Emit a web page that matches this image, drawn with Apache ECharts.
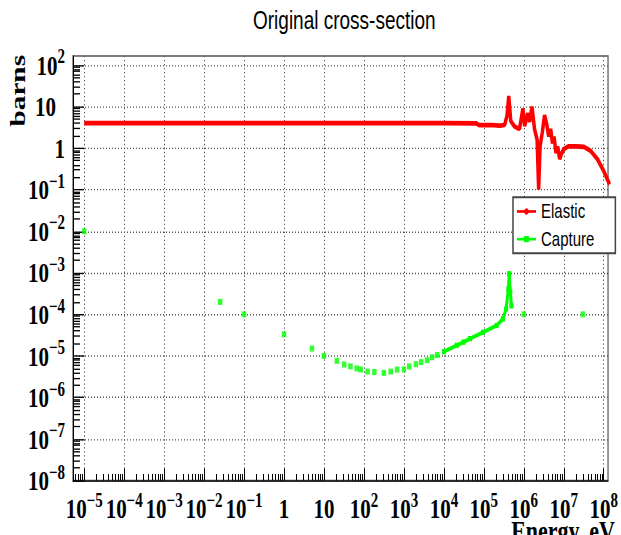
<!DOCTYPE html>
<html>
<head>
<meta charset="utf-8">
<script src="https://cdn.jsdelivr.net/npm/echarts@6/dist/echarts.min.js"></script>
<style>
  html { margin: 0; padding: 0; overflow: hidden; background: #fff; }
  body { margin: 0; padding: 0; width: 621px; height: 535px; background: #fff; }
  /* the chart is laid out on a squat 621x402 area and stretched vertically */
  #chart { width: 621px; height: 402px; transform: scaleY(1.3308); transform-origin: 0 0; }
</style>
</head>
<body>
<div id="chart"></div>
<script>
// Elastic cross-section: energy (eV) and value (barns)
const elasticEnergy = [1e-5, 1e-4, 1e-3, 1e-2, 1e-1, 1, 10, 1e2, 1e3, 1e4, 6.5e4, 7.5e4, 1.5e5, 2.5e5, 3.3e5, 3.8e5, 4.2e5, 4.5e5, 4.7e5, 5.9e5, 7.8e5, 9.5e5, 1.05e6, 1.26e6, 1.4e6, 1.6e6, 1.85e6, 2.15e6, 2.35e6, 2.55e6, 2.9e6, 3.3e6, 3.7e6, 4.2e6, 4.7e6, 5.2e6, 5.7e6, 6.4e6, 7.0e6, 7.9e6, 8.9e6, 1.0e7, 1.3e7, 2.0e7, 3.2e7, 4.7e7, 6.9e7, 1.0e8, 1.4e8];
const elasticXS = [4.0, 4.0, 4.0, 4.0, 4.0, 4.0, 4.0, 4.0, 4.0, 4.0, 3.95, 3.6, 3.6, 3.5, 3.6, 6.0, 18, 8, 4.5, 3.3, 2.9, 9, 3.4, 6.9, 4.3, 10, 2.9, 1.6, 0.1, 1.1, 2.4, 6.2, 4.0, 1.9, 2.9, 1.3, 1.9, 0.76, 1.1, 0.55, 0.76, 0.95, 1.1, 1.1, 1.07, 0.86, 0.55, 0.28, 0.135];

// Capture cross-section: isolated points
const captureDotEnergy = [1e-5, 0.0253, 0.1, 1, 5, 10, 21, 32, 46, 66, 83, 123, 182, 316, 468, 676, 1000, 1350, 2000, 2700, 3800, 5100, 6800, 1e6, 3e7];
const captureDotXS = [1e-2, 2e-4, 1e-4, 3.3e-5, 1.5e-5, 1e-5, 7.6e-6, 6.2e-6, 5.6e-6, 5.0e-6, 4.7e-6, 4.2e-6, 4.1e-6, 3.9e-6, 4.2e-6, 4.7e-6, 4.7e-6, 5.6e-6, 6.3e-6, 7.1e-6, 7.9e-6, 9.3e-6, 1.05e-5, 1e-4, 1e-4];
// Capture cross-section: densely sampled run
const captureRunEnergy = [1e4, 2.1e4, 3.1e4, 4.5e4, 9.5e4, 2.1e5, 3.0e5, 3.6e5, 4.1e5, 4.3e5, 4.6e5, 4.9e5];
const captureRunXS = [1.26e-5, 1.8e-5, 2.15e-5, 2.6e-5, 3.7e-5, 5.4e-5, 7.8e-5, 1.35e-4, 4.1e-4, 9.5e-4, 3.5e-4, 1.6e-4];

// Decade exponents for the axis labels
const xDecades = [-5, -4, -3, -2, -1, 0, 1, 2, 3, 4, 5, 6, 7, 8];
const yDecades = [-8, -7, -6, -5, -4, -3, -2, -1, 0, 1, 2];

const xMin = 5.25e-6, xMax = 1.28e8;
const yMin = 1e-8, yMax = 165;

const zip = (a, b) => a.map((v, i) => [v, b[i]]);
const decades = list => list.map(e => Math.pow(10, e));
function minors(lo, hi) {
  const out = [];
  for (let e = Math.floor(Math.log10(lo)); e <= Math.ceil(Math.log10(hi)); e++) {
    for (let m = 2; m <= 9; m++) {
      const v = m * Math.pow(10, e);
      if (v > lo && v < hi) out.push(v);
    }
  }
  return out;
}

function decadeLabel(v, padTen) {
  const e = Math.round(Math.log10(v));
  if (e === 0) return '{b|1}';
  if (e === 1) return padTen ? '{b|10}{g| }' : '{b|10}';
  return '{b|10}{s|' + (e < 0 ? '\u2212' + (-e) : e) + '}';
}

const serif = 'Liberation Serif';
const sans = 'Liberation Sans';
const labelRich = {
  b: { fontFamily: serif, fontWeight: 'bold', fontSize: 21, lineHeight: 28, color: '#000' },
  s: { fontFamily: serif, fontWeight: 'bold', fontSize: 15, lineHeight: 15, verticalAlign: 'top', color: '#000' },
  g: { width: 9, fontSize: 21, lineHeight: 28 }
};
const gridLine = { show: true, lineStyle: { color: '#555', width: 1, type: [1, 2] } };

const chart = echarts.init(document.getElementById('chart'), null, { renderer: 'svg' });
chart.setOption({
  animation: false,
  backgroundColor: '#fff',
  title: {
    text: 'Original cross-section',
    left: 253, top: 6, padding: 0,
    textStyle: { fontFamily: sans, fontSize: 19, fontWeight: 'normal', color: '#000' }
  },
  grid: {
    left: 73, right: 7.7, top: 42.1, bottom: 40.9,
    show: true, borderColor: '#555', borderWidth: 1.2, backgroundColor: 'transparent'
  },
  legend: {
    data: ['Elastic', 'Capture'],
    orient: 'vertical',
    left: 513, top: 148.3,
    itemWidth: 19, itemHeight: 6, itemGap: 5.8,
    padding: [3.1, 21, 3.1, 3],
    borderColor: '#444', borderWidth: 1.5, borderRadius: 0,
    backgroundColor: '#fff',
    textStyle: { fontFamily: sans, fontSize: 15, lineHeight: 15, color: '#000' }
  },
  xAxis: [
    {
      type: 'log', logBase: 10, min: xMin, max: xMax,
      axisLine: { lineStyle: { color: '#000', width: 1 } },
      axisTick: { inside: true, length: 9, customValues: decades(xDecades), lineStyle: { color: '#000' } },
      axisLabel: { customValues: decades(xDecades), margin: 7, formatter: v => decadeLabel(v, false), rich: labelRich },
      splitLine: gridLine
    },
    {
      type: 'log', logBase: 10, min: xMin, max: xMax, position: 'bottom',
      axisLine: { show: false },
      axisTick: { inside: true, length: 5, customValues: minors(xMin, xMax), lineStyle: { color: '#000' } },
      axisLabel: { show: false },
      splitLine: { show: false }
    }
  ],
  yAxis: [
    {
      type: 'log', logBase: 10, min: yMin, max: yMax,
      axisLine: { show: true, lineStyle: { color: '#000', width: 1 } },
      axisTick: { show: true, inside: true, length: 11, customValues: decades(yDecades), lineStyle: { color: '#000' } },
      axisLabel: { customValues: decades(yDecades), margin: 8, formatter: v => decadeLabel(v, true), rich: labelRich },
      splitLine: gridLine
    },
    {
      type: 'log', logBase: 10, min: yMin, max: yMax, position: 'left',
      axisLine: { show: false },
      axisTick: { show: true, inside: true, length: 7, customValues: minors(yMin, yMax), lineStyle: { color: '#000' } },
      axisLabel: { show: false },
      splitLine: { show: false }
    }
  ],
  graphic: [
    {
      type: 'text', x: 17.5, y: 41.3, rotation: Math.PI / 2,
      style: { text: 'barns', font: 'bold 22px "Liberation Serif"', fill: '#000', align: 'right', verticalAlign: 'middle' }
    },
    {
      type: 'text', x: 615, y: 399.5,
      style: { text: 'Energy, eV', font: 'bold 22px "Liberation Serif"', fill: '#000', align: 'right', verticalAlign: 'middle' }
    }
  ],
  series: [
    {
      name: 'Elastic', type: 'line',
      data: zip(elasticEnergy, elasticXS),
      color: '#ff0000',
      symbol: 'circle', symbolSize: 5, showSymbol: false,
      lineStyle: { width: 3.5, color: '#ff0000' },
      clip: true
    },
    {
      name: 'Capture', type: 'line',
      data: zip(captureRunEnergy, captureRunXS),
      color: '#00ff00',
      symbol: 'rect', symbolSize: 4, showSymbol: true, showAllSymbol: true,
      lineStyle: { width: 3, color: '#00ff00' },
      itemStyle: { color: '#00ff00' },
      clip: true
    },
    {
      name: 'Capture', type: 'scatter',
      data: zip(captureDotEnergy, captureDotXS),
      symbol: 'rect', symbolSize: 4.5,
      itemStyle: { color: '#00ff00' },
      clip: true
    }
  ]
});
</script>
</body>
</html>
